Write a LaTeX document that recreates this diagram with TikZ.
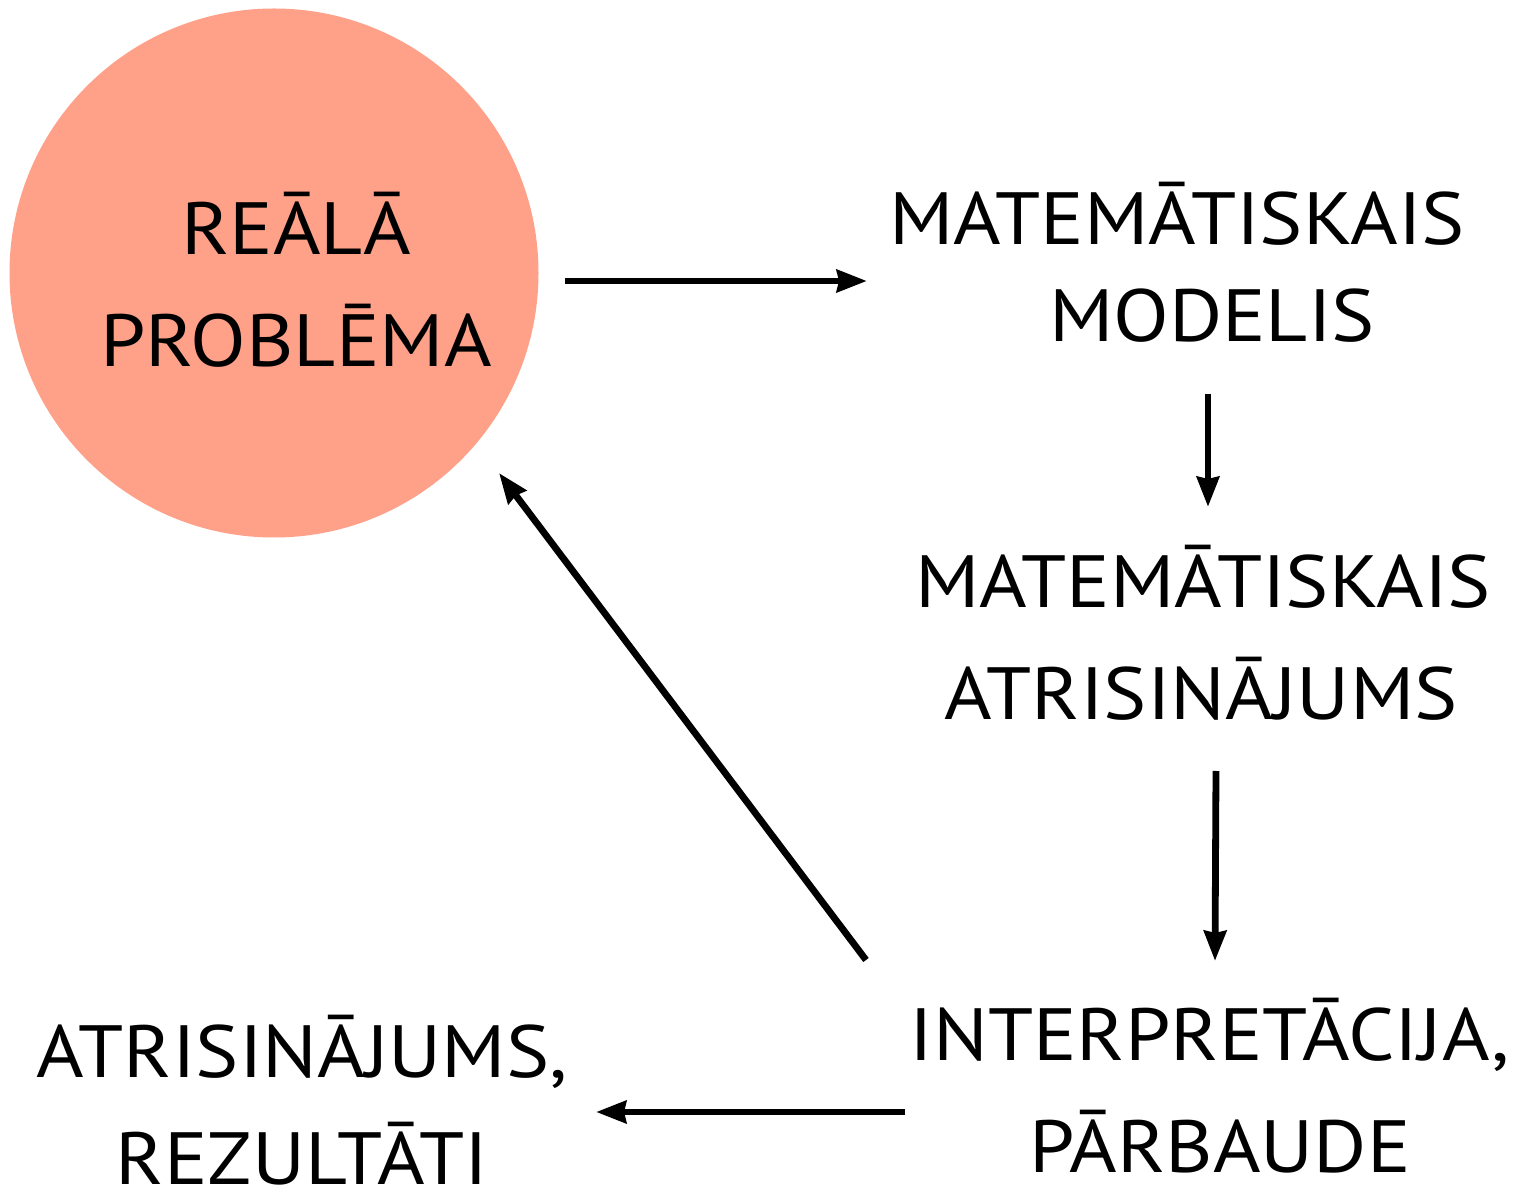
\documentclass[tikz,border=0pt]{standalone}
\usepackage{graphicx}
\usepackage{fontspec}
\setmainfont{PT Sans}
\usetikzlibrary{arrows.meta}
\definecolor{salmon}{RGB}{255,160,137}
\newcommand{\wide}[1]{\scalebox{1.1}[1]{#1}}
\tikzset{
  lbl/.style={anchor=base, inner sep=0pt, font=\fontsize{37}{44}\selectfont},
  flow/.style={line width=3.4pt, -{Stealth[length=15pt, width=11pt, inset=1pt]}}
}
\begin{document}
\begin{tikzpicture}[x=0.5pt, y=-0.5pt]
\useasboundingbox (0,0) rectangle (1517,1197);
% real problem
\fill[salmon] (274,273) circle[radius=264.5];
\node[lbl] (r1) at (296,255) {\wide{REĀLĀ}};
\node[lbl] (r2) at (296,367) {\wide{PROBLĒMA}};
% mathematical model
\node[lbl] (m1) at (1177,245) {\wide{MATEMĀTISKAIS}};
\node[lbl] (m2) at (1212,342) {\wide{MODELIS}};
% mathematical solution
\node[lbl] (s1) at (1203,608) {\wide{MATEMĀTISKAIS}};
\node[lbl] (s2) at (1201,720) {\wide{ATRISINĀJUMS}};
% interpretation
\node[lbl] (i1) at (1210,1060) {\wide{INTERPRETĀCIJA,}};
\node[lbl] (i2) at (1220,1172) {\wide{PĀRBAUDE}};
% results
\node[lbl] (a1) at (302,1077) {\wide{ATRISINĀJUMS,}};
\node[lbl] (a2) at (302,1184) {\wide{REZULTĀTI}};
% arrow end points
\coordinate (e1a) at (565,281);  \coordinate (e1b) at (867,281);
\coordinate (e2a) at (1208,394); \coordinate (e2b) at (1208,507);
\coordinate (e3a) at (1216,771); \coordinate (e3b) at (1215,961);
\coordinate (e4a) at (866,960);  \coordinate (e4b) at (499,473);
\coordinate (e5a) at (905,1112); \coordinate (e5b) at (596,1112);
\draw[flow] (e1a) -- (e1b);
\draw[flow] (e2a) -- (e2b);
\draw[flow] (e3a) -- (e3b);
\draw[flow] (e4a) -- (e4b);
\draw[flow] (e5a) -- (e5b);
\end{tikzpicture}
\end{document}
